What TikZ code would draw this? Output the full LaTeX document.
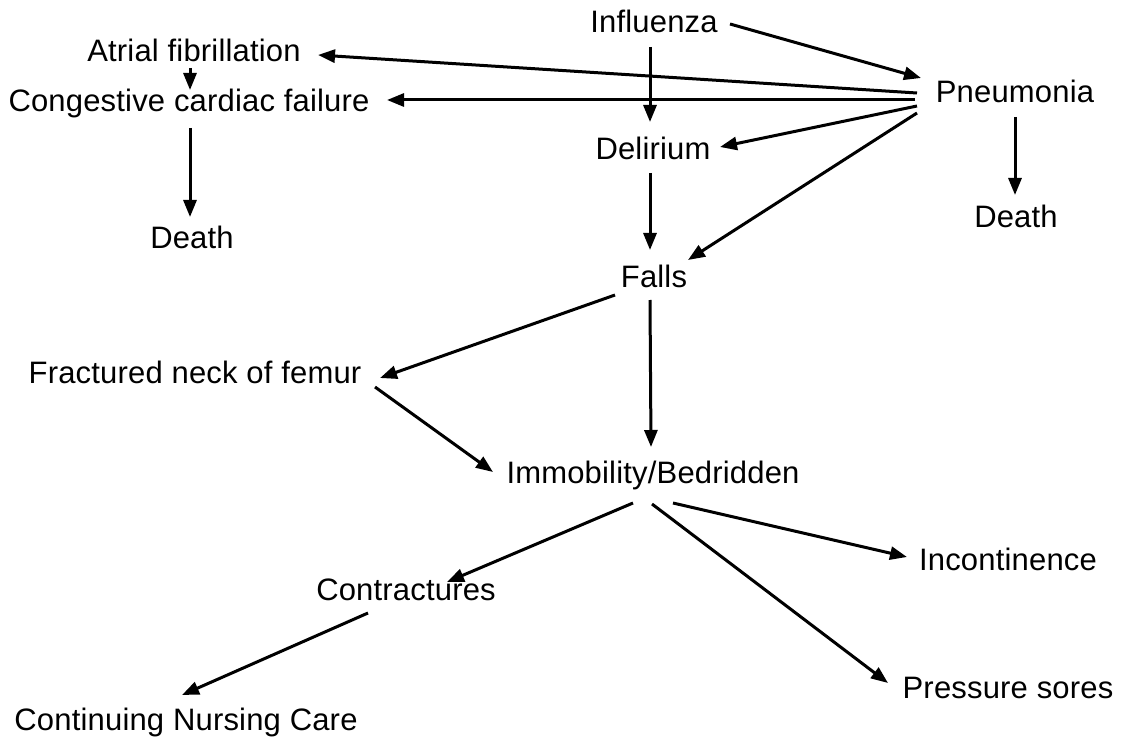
\documentclass[tikz,border=0pt]{standalone}
\usepackage{fontspec}
\setmainfont{Liberation Sans}[LetterSpace=0.6]
\usetikzlibrary{arrows.meta}
\begin{document}
\begin{tikzpicture}[x=1pt,y=-1pt,
  lbl/.style={inner sep=0pt,anchor=base,font=\fontsize{31}{33}\selectfont},
  arr/.style={line width=3pt,-{Triangle[length=17pt,width=13pt]}}]
\useasboundingbox (0,0) rectangle (1126,743);
% labels
\node[lbl] (inf) at (654,33) {Influenza};
\node[lbl] (af)  at (194,62) {Atrial fibrillation};
\node[lbl] (ccf) at (189,112) {Congestive cardiac failure};
\node[lbl] (pn)  at (1015,103) {Pneumonia};
\node[lbl] (del) at (653,160) {Delirium};
\node[lbl] (dl)  at (192,248) {Death};
\node[lbl] (dr)  at (1016,228) {Death};
\node[lbl] (fa)  at (654,287) {Falls};
\node[lbl] (fnf) at (195,383) {Fractured neck of femur};
\node[lbl] (imm) at (653,483) {Immobility/Bedridden};
\node[lbl] (inc) at (1008,570) {Incontinence};
\node[lbl] (con) at (406,600) {Contractures};
\node[lbl] (ps)  at (1008,698) {Pressure sores};
\node[lbl] (cnc) at (186,730) {Continuing Nursing Care};
% connectors
\draw[arr] ([shift={(76,-9)}]inf.base) -- ([shift={(-94,-25)}]pn.base);
\draw[arr] ([shift={(-98,-10)}]pn.base) -- ([shift={(124,-7)}]af.base);
\draw[arr] ([shift={(-100,-3)}]pn.base) -- ([shift={(198,-12)}]ccf.base);
\draw[arr] ([shift={(-98,3)}]pn.base) -- ([shift={(67,-13)}]del.base);
\draw[arr] ([shift={(-98,10)}]pn.base) -- ([shift={(34,-27)}]fa.base);
\draw[arr] ([shift={(-4,14)}]inf.base) -- ([shift={(-3,-38)}]del.base);
\draw[arr] ([shift={(-4,6)}]af.base) -- ([shift={(1,-22)}]ccf.base);
\draw[arr] ([shift={(1,16)}]ccf.base) -- ([shift={(-2,-31)}]dl.base);
\draw[arr] ([shift={(0,14)}]pn.base) -- ([shift={(-1,-33)}]dr.base);
\draw[arr] ([shift={(-3,13)}]del.base) -- ([shift={(-4,-37)}]fa.base);
\draw[arr] ([shift={(-39,8)}]fa.base) -- ([shift={(185,-5)}]fnf.base);
\draw[arr] ([shift={(-4,13)}]fa.base) -- ([shift={(-2,-36)}]imm.base);
\draw[arr] ([shift={(180,4)}]fnf.base) -- ([shift={(-160,-11)}]imm.base);
\draw[arr] ([shift={(-20,20)}]imm.base) -- ([shift={(41,-18)}]con.base);
\draw[arr] ([shift={(20,20)}]imm.base) -- ([shift={(-101,-13)}]inc.base);
\draw[arr] ([shift={(-1,21)}]imm.base) -- ([shift={(-120,-15)}]ps.base);
\draw[arr] ([shift={(-38,13)}]con.base) -- ([shift={(-4,-35)}]cnc.base);
\end{tikzpicture}
\end{document}
